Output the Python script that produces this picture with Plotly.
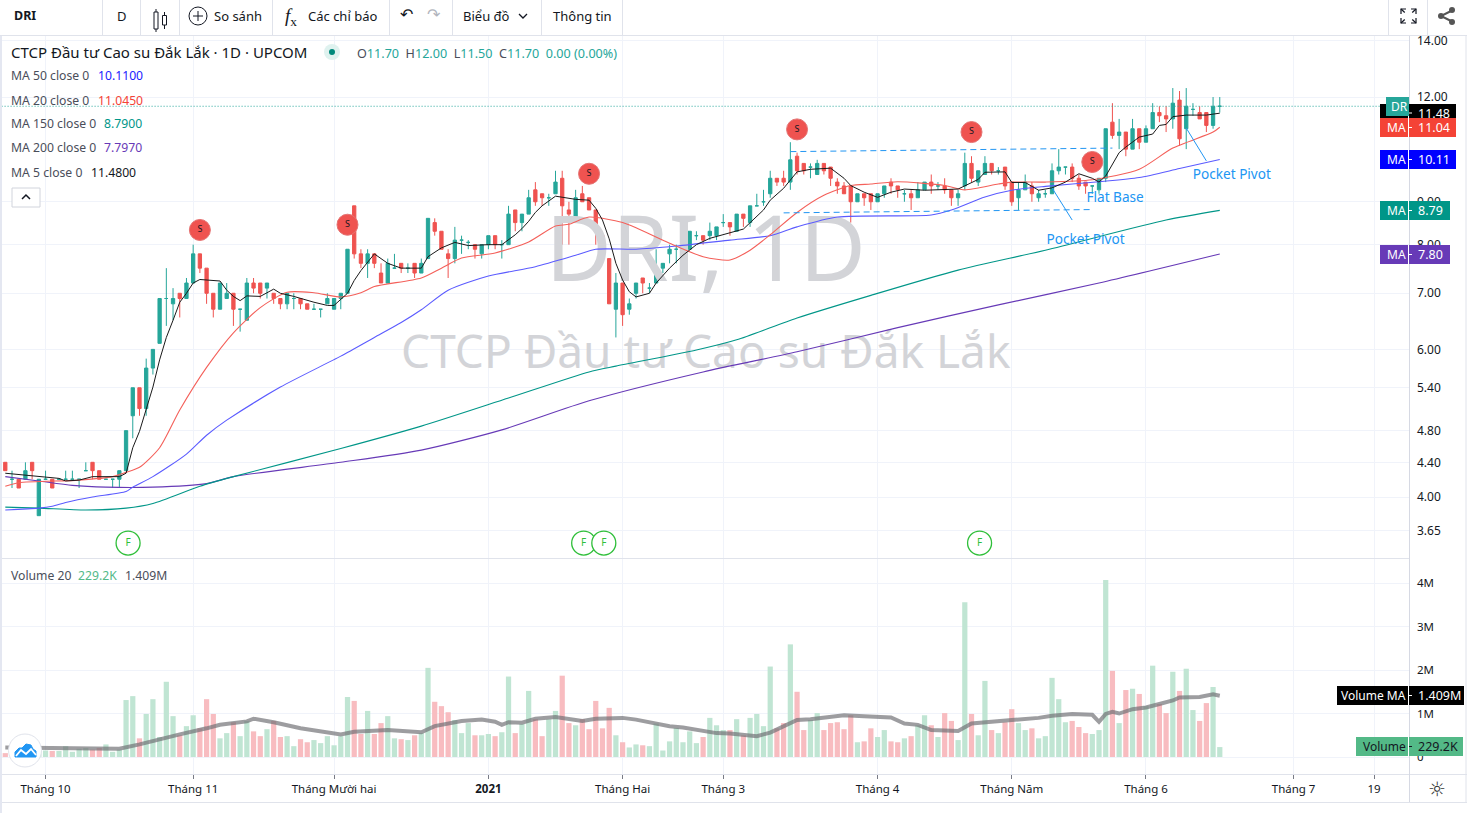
#!/usr/bin/env python3
# -*- coding: utf-8 -*-
# DRI daily candles with moving averages and volume, TradingView style
import plotly.graph_objects as go

W = 1467
H = 813
FONT = "Noto Sans"

opens = [4.40,4.20,4.20,4.20,4.40,3.80,4.20,4.20,4.20,4.20,
         4.20,4.20,4.30,4.40,4.30,4.20,4.20,4.20,4.30,5.00,
         5.40,5.10,5.70,6.10,6.90,6.80,7.00,6.90,7.20,7.80,
         7.50,7.00,6.70,6.90,7.00,6.70,6.50,7.20,7.20,7.10,
         7.00,6.90,6.80,6.90,6.90,6.80,6.70,6.70,6.80,6.70,
         6.90,7.00,8.90,7.80,7.60,7.80,7.40,7.20,7.50,7.60,
         7.50,7.60,7.40,7.70,8.50,8.30,7.80,7.70,8.10,8.05,
         8.00,7.80,8.00,8.20,8.00,8.00,8.80,8.50,8.70,9.30,
         9.20,9.10,9.20,9.60,8.80,8.60,9.20,9.10,8.80,8.20,
         7.70,6.70,7.20,6.70,7.00,7.30,7.10,7.20,7.50,7.80,
         7.90,7.80,7.90,8.20,8.20,8.20,8.20,8.50,8.50,8.30,
         8.70,8.50,8.90,9.00,9.20,9.60,9.60,9.50,10.20,10.00,
         9.90,9.70,10.00,9.90,9.50,9.40,9.40,9.00,9.20,9.20,
         9.00,9.20,9.50,9.40,9.20,9.20,9.10,9.30,9.50,9.40,
         9.40,9.30,9.10,9.40,10.00,9.50,9.70,10.00,9.80,9.90,
         9.50,9.10,9.30,9.40,9.10,9.20,9.20,9.80,9.90,9.90,
         9.60,9.50,9.40,9.30,9.60,11.20,10.80,10.90,10.40,11.00,
         10.60,11.00,11.50,11.40,11.30,11.90,11.00,11.60,11.50,11.50,
         11.10,11.70]
highs = [4.40,4.30,4.20,4.40,4.40,4.20,4.30,4.20,4.20,4.30,
         4.30,4.20,4.40,4.40,4.30,4.20,4.20,4.30,4.80,5.40,
         5.40,5.85,6.00,6.90,7.50,7.10,7.00,7.30,8.00,7.80,
         7.50,7.00,7.20,7.20,7.00,6.70,7.30,7.30,7.20,7.20,
         7.00,6.90,7.00,7.00,6.90,6.80,6.80,6.70,7.00,6.90,
         7.00,7.90,8.90,7.90,7.90,7.80,7.60,7.70,7.80,7.60,
         7.60,7.60,7.70,8.60,8.60,8.30,7.90,8.40,8.20,8.10,
         8.00,8.00,8.20,8.20,8.10,8.90,8.80,8.70,9.30,9.50,
         9.20,9.20,9.80,9.80,9.00,9.30,9.40,9.10,8.80,8.30,
         7.70,7.40,7.20,6.90,7.20,7.30,7.20,7.90,7.60,8.00,
         8.00,7.90,8.30,8.30,8.20,8.50,8.40,8.70,8.50,8.70,
         8.70,8.90,9.20,9.30,9.80,9.60,9.80,10.60,10.30,10.00,
         10.00,10.10,10.00,9.90,9.60,9.50,9.40,9.20,9.20,9.20,
         9.20,9.40,9.60,9.40,9.30,9.30,9.50,9.50,9.70,9.50,
         9.60,9.30,9.30,10.30,10.20,9.80,10.20,10.00,9.90,9.90,
         9.50,9.50,9.70,9.50,9.30,9.30,10.00,10.40,9.90,10.00,
         9.70,9.50,9.40,9.60,11.00,11.80,11.30,10.90,11.30,11.00,
         11.10,11.80,11.70,11.70,12.30,12.20,12.30,11.80,11.70,11.50,
         12.00,12.00]
lows = [4.30,4.10,4.10,4.20,4.20,3.80,4.20,4.10,4.20,4.20,
        4.20,4.10,4.30,4.20,4.20,4.20,4.10,4.10,4.30,4.70,
        5.00,5.00,5.60,6.10,6.40,6.50,6.55,6.90,7.20,7.40,
        6.80,6.55,6.70,6.90,6.40,6.30,6.50,7.00,6.90,6.90,
        6.80,6.70,6.70,6.70,6.70,6.70,6.70,6.55,6.80,6.70,
        6.70,7.00,7.70,7.50,7.30,7.50,7.20,7.20,7.50,7.40,
        7.40,7.30,7.40,7.70,8.20,7.90,7.30,7.60,7.80,7.90,
        7.70,7.70,7.90,7.90,7.70,8.00,8.30,8.30,8.70,8.90,
        8.90,8.90,9.20,8.00,8.00,8.60,9.00,8.80,8.00,7.60,
        6.80,6.20,6.40,6.60,6.90,7.00,7.00,7.20,7.40,7.60,
        7.60,7.70,7.90,8.10,8.00,8.10,8.10,8.40,8.20,8.30,
        8.40,8.40,8.90,8.90,9.10,9.40,9.40,9.30,9.70,9.70,
        9.60,9.70,9.70,9.40,9.20,9.20,8.50,9.00,8.90,8.80,
        9.00,9.10,9.20,9.10,9.00,8.80,9.10,9.30,9.20,9.30,
        9.20,8.90,8.90,9.30,9.50,9.40,9.70,9.70,9.70,9.30,
        8.90,8.80,9.30,9.00,9.00,9.10,9.20,9.70,9.70,9.50,
        9.30,9.20,9.20,9.20,9.50,10.70,10.40,10.20,10.40,10.40,
        10.60,11.00,11.20,10.90,11.00,10.50,10.40,11.40,11.30,10.90,
        11.00,11.50]
closes = [4.30,4.20,4.10,4.30,4.30,4.20,4.20,4.10,4.20,4.20,
          4.20,4.20,4.30,4.30,4.20,4.20,4.20,4.30,4.80,5.40,
          5.10,5.70,6.00,6.90,6.90,6.90,6.90,7.20,7.80,7.50,
          7.00,6.70,7.20,7.00,6.70,6.70,7.20,7.10,7.00,7.20,
          6.90,6.80,7.00,6.90,6.80,6.70,6.70,6.70,6.90,6.90,
          7.00,7.90,7.80,7.60,7.80,7.60,7.20,7.60,7.50,7.50,
          7.50,7.40,7.60,8.60,8.30,7.90,7.70,8.10,8.10,8.05,
          7.90,8.00,8.20,8.00,8.00,8.70,8.50,8.70,9.10,9.00,
          9.10,9.10,9.50,8.90,8.70,9.10,9.00,8.80,8.30,7.70,
          6.80,7.20,6.60,6.80,7.20,7.20,7.10,7.50,7.60,7.90,
          7.90,7.80,8.30,8.20,8.10,8.30,8.40,8.50,8.40,8.70,
          8.60,8.90,8.90,9.00,9.60,9.50,9.50,10.10,9.80,9.80,
          9.90,10.00,9.80,9.60,9.40,9.20,9.00,9.20,9.10,9.00,
          9.20,9.40,9.40,9.30,9.20,9.10,9.30,9.50,9.40,9.40,
          9.30,9.10,9.20,10.00,9.60,9.80,10.00,9.80,9.80,9.40,
          9.00,9.30,9.50,9.20,9.20,9.20,9.80,9.90,9.90,9.60,
          9.40,9.40,9.40,9.60,11.00,10.80,10.90,10.40,11.00,10.60,
          11.00,11.50,11.40,11.30,11.80,10.70,11.70,11.60,11.30,11.10,
          11.70,11.70]
# volume in millions of shares
volumes = [.09,.20,.15,.20,.15,.20,.15,.14,.14,.25,
           .12,.19,.21,.17,.21,.29,.12,.17,1.31,1.40,
           .43,.99,1.33,.46,1.73,.94,.50,.71,.96,.66,
           1.33,.99,.43,.55,.80,.48,.83,.59,.48,.64,
           .83,.46,.48,.25,.41,.34,.39,.32,.48,.27,
           .48,1.38,1.29,.53,1.06,.53,.78,.94,.43,.41,
           .39,.50,.55,2.05,1.27,1.17,1.03,.85,.55,.78,
           .50,.50,.53,.48,.57,1.85,.55,.76,1.52,.87,
           .48,.87,1.06,1.87,.78,.73,.87,.64,1.29,.66,
           1.13,.50,.34,.22,.29,.27,.25,.77,.15,.36,
           .67,.34,.59,.32,.46,.90,.73,.62,.62,.87,
           .50,.90,.99,.71,2.08,.66,.78,2.59,1.50,.62,
           .85,1.01,.62,.78,.80,.64,.96,.34,.36,.66,
           .46,.62,.36,.34,.43,.48,.73,.96,.73,.46,
           1.01,.83,.39,3.56,.99,.50,1.75,.62,.55,.80,
           1.10,.78,.62,.66,.43,.48,1.82,1.33,.80,.83,
           .69,.55,.53,.62,4.07,1.98,.78,1.54,1.57,1.45,
           1.17,2.10,1.22,1.01,1.96,1.52,2.03,1.08,.83,1.24,
           1.61,.229]

# moving averages at the bars where they bend
ma5_bars = [0,3,5,8,9,11,13,17,18,19,20,21,22,23,24,25,26,27,28,29,32,33,34,35,36,38,40,41,43,46,48,49,51,52,53,55,57,59,61,62,63,65,67,69,72,74,76,77,78,79,80,82,85,87,88,89,90,91,92,93,94,96,97,99,101,103,105,108,110,113,114,116,117,118,120,123,125,126,128,130,132,134,137,142,145,146,149,150,152,154,156,158,160,162,163,164,166,167,169,171,172,173,174,176,179,181]
ma5 = [4.27,4.25,4.23,4.21,4.18,4.19,4.23,4.23,4.27,4.58,4.79,5.08,5.41,5.83,6.20,6.50,6.83,7.00,7.20,7.27,7.24,7.06,6.94,6.86,6.95,6.94,7.08,7.00,6.94,6.83,6.77,6.77,7.00,7.25,7.45,7.80,7.60,7.50,7.50,7.50,7.74,7.93,8.05,7.98,8.00,8.00,8.22,8.36,8.53,8.74,8.90,9.14,9.06,9.04,8.84,8.56,8.13,7.60,7.26,7.03,6.93,7.00,7.20,7.50,7.77,8.00,8.14,8.27,8.35,8.80,9.04,9.34,9.56,9.77,9.84,9.87,9.60,9.41,9.24,9.11,9.24,9.32,9.29,9.32,9.57,9.76,9.77,9.49,9.49,9.29,9.35,9.50,9.72,9.60,9.50,9.66,10.30,10.46,10.75,10.84,11.10,11.13,11.37,11.42,11.42,11.48]
ma20_bars = [0,2,11,16,18,20,23,26,30,34,38,42,46,50,53,55,62,65,68,73,78,82,84,87,92,94,99,104,108,111,114,118,122,126,129,133,140,143,148,150,155,162,169,174,180,181]
ma20 = [4.12,4.16,4.19,4.23,4.28,4.34,4.58,5.08,5.71,6.28,6.73,7.02,7.01,6.93,7.01,7.13,7.30,7.50,7.71,7.82,8.06,8.42,8.46,8.63,8.50,8.38,8.03,7.74,7.67,7.88,8.22,8.74,9.16,9.41,9.45,9.51,9.41,9.30,9.45,9.50,9.50,9.56,9.84,10.43,10.90,11.045]
ma50_bars = [0,5,7,9,13,18,19,22,27,30,33,41,50,55,59,62,66,72,79,85,88,94,100,108,114,118,124,138,141,146,150,155,163,169,175,181]
ma50 = [3.86,3.88,3.90,3.94,4.00,4.06,4.11,4.23,4.50,4.74,4.94,5.41,5.89,6.20,6.46,6.69,7.06,7.34,7.53,7.77,7.90,7.90,7.97,8.10,8.20,8.40,8.63,8.68,8.80,9.12,9.29,9.39,9.51,9.62,9.86,10.11]
ma150_bars = [0,5,12,18,22,29,34,50,62,75,87,91,103,109,118,129,142,155,173,181]
ma150 = [3.89,3.88,3.86,3.88,3.93,4.12,4.23,4.57,4.86,5.25,5.64,5.73,5.99,6.16,6.54,6.96,7.46,7.88,8.56,8.79]
ma200_bars = [0,5,10,15,22,30,34,50,62,74,87,104,118,133,148,163,181]
ma200 = [4.23,4.18,4.13,4.11,4.11,4.15,4.23,4.40,4.55,4.81,5.21,5.64,5.96,6.37,6.78,7.20,7.797]
vol_ma_bars = [0,5,17,20,23,26,30,32,36,37,40,44,50,52,57,61,62,64,68,71,73,74,75,77,79,82,85,86,88,90,92,94,97,99,101,103,106,108,111,112,114,116,118,120,122,125,128,132,134,136,138,142,144,147,150,154,156,159,162,163,164,165,166,168,170,172,174,175,178,180,181]
vol_ma = [.22,.21,.19,.29,.41,.52,.66,.74,.82,.88,.80,.66,.52,.58,.62,.57,.57,.71,.83,.86,.81,.74,.80,.79,.88,.92,.85,.83,.88,.90,.90,.86,.77,.71,.68,.62,.55,.54,.50,.48,.56,.70,.85,.87,.91,.96,.94,.91,.77,.74,.62,.60,.77,.80,.85,.90,.95,.99,.97,.81,.99,1.04,1.00,1.10,1.14,1.22,1.30,1.37,1.38,1.44,1.409]

# time axis
tick_bars = [6,28,49,72,92,107,130,150,170,192,204]
tick_labels = ["Tháng 10","Tháng 11","Tháng Mười hai","<b>2021</b>","Tháng Hai","Tháng 3","Tháng 4","Tháng Năm","Tháng 6","Tháng 7","19"]
price_ticks = [3.65,4.00,4.40,4.80,5.40,6.00,7.00,8.00,9.00,12.00,14.00]
vol_ticks = [0,1,2,3,4]
vol_tick_labels = ["0","1M","2M","3M","4M"]

# signals and hand drawn lines on the chart
sell_bars = [29,51,87,118,144,162]
sell_prices = [8.33,8.45,9.72,10.98,10.90,10.04]
f_bars = [18.3,86.2,89.2,145.2]
f_prices = [3.525,3.525,3.525,3.525]
upper_base_bars = [117,165]
upper_base = [10.33,10.43]
lower_base_bars = [116,162]
lower_base = [8.73,8.81]
pivot1_bars = [156,159]
pivot1 = [9.35,8.56]
pivot2_bars = [176,179]
pivot2 = [11.02,10.07]
note_bars = [165.4,161,182.8]
note_prices = [9.07,8.10,9.66]
note_texts = ["Flat Base","Pocket Pivot","Pocket Pivot"]

UP = "#26a69a"
DOWN = "#ef5350"
GRID = "#f0f3fa"
BORDER = "#e0e3eb"
TEXT = "#131722"
LEGEND = "#4a4e5a"
DRAW = "#2196f3"

bars = list(range(len(closes)))
up_idx = [i for i in bars if closes[i] >= opens[i]]
down_idx = [i for i in bars if closes[i] < opens[i]]


def pick(values, idx):
    return [values[i] for i in idx]


fig = go.Figure()

# watermark goes in first so it sits behind the candles
fig.add_trace(go.Scatter(x=[104.4, 104.4], y=[7.71, 5.88], mode="text", text=["DRI, 1D", "CTCP Đầu tư Cao su Đắk Lắk"],
                         textfont=dict(family=FONT, size=[91, 46], color="#d3d4d8"), textposition="middle center",
                         hoverinfo="skip", showlegend=False))

fig.add_trace(go.Scatter(x=[-1, 210], y=[closes[-1], closes[-1]], mode="lines",
                         line=dict(color=UP, width=1, dash="1px,2px"), showlegend=False))

for idx, col in ((up_idx, UP), (down_idx, DOWN)):
    fig.add_trace(go.Candlestick(x=idx, open=pick(opens, idx), high=pick(highs, idx), low=pick(lows, idx),
                                 close=pick(closes, idx), whiskerwidth=0,
                                 increasing=dict(line=dict(color=col, width=1), fillcolor=col),
                                 decreasing=dict(line=dict(color=col, width=1), fillcolor=col),
                                 showlegend=False))

for xs, ys, col in ((ma200_bars, ma200, "#673ab7"), (ma150_bars, ma150, "#009688"), (ma50_bars, ma50, "#5b5bff"),
                    (ma20_bars, ma20, "#f4605a")):
    fig.add_trace(go.Scatter(x=xs, y=ys, mode="lines", line=dict(color=col, width=1.1, shape="spline", smoothing=0.7),
                             showlegend=False))
fig.add_trace(go.Scatter(x=ma5_bars, y=ma5, mode="lines", line=dict(color="#1a1a1a", width=1), showlegend=False))

for xs, ys in ((upper_base_bars, upper_base), (lower_base_bars, lower_base)):
    fig.add_trace(go.Scatter(x=xs, y=ys, mode="lines", line=dict(color=DRAW, width=1, dash="6px,4px"), showlegend=False))
for xs, ys in ((pivot1_bars, pivot1), (pivot2_bars, pivot2)):
    fig.add_trace(go.Scatter(x=xs, y=ys, mode="lines", line=dict(color=DRAW, width=1), showlegend=False))

fig.add_trace(go.Scatter(x=note_bars, y=note_prices, mode="text", text=note_texts,
                         textfont=dict(family=FONT, size=13.6, color=DRAW), showlegend=False))
fig.add_trace(go.Scatter(x=sell_bars, y=sell_prices, mode="markers+text", text=["S"] * len(sell_bars),
                         marker=dict(size=21, color=DOWN, line=dict(color="#e57373", width=1)),
                         textfont=dict(family=FONT, size=9, color=TEXT), textposition="middle center", showlegend=False))
fig.add_trace(go.Scatter(x=f_bars, y=f_prices, mode="markers+text", text=["F"] * len(f_bars),
                         marker=dict(size=24, color="white", line=dict(color="#2fbf3a", width=1.3)),
                         textfont=dict(family=FONT, size=10, color="#2fbf3a"), textposition="middle center", showlegend=False))

# volume pane
for idx, col in ((up_idx, "#c0e5d3"), (down_idx, "#f8bcc0")):
    fig.add_trace(go.Bar(x=idx, y=pick(volumes, idx), width=0.78, marker=dict(color=col, line=dict(width=0)),
                         xaxis="x2", yaxis="y2", showlegend=False))
fig.add_trace(go.Scatter(x=vol_ma_bars, y=vol_ma, mode="lines", line=dict(color="rgba(110,110,115,0.68)", width=4),
                         xaxis="x2", yaxis="y2", showlegend=False))


def X(x):
    return x / W


def Y(y):
    return 1 - y / H


shapes = []
notes = []


def rect(x0, y0, x1, y1, fill, line=None, kind="rect"):
    shapes.append(dict(type=kind, xref="paper", yref="paper", x0=X(x0), y0=Y(y0), x1=X(x1), y1=Y(y1), fillcolor=fill,
                       line=dict(color=line or fill, width=1 if line else 0)))


def seg(x0, y0, x1, y1, col=BORDER, width=1):
    shapes.append(dict(type="line", xref="paper", yref="paper", x0=X(x0), y0=Y(y0), x1=X(x1), y1=Y(y1),
                       line=dict(color=col, width=width)))


def poly(points, col, width=1.3, fill=None):
    path = "M" + " L".join("%.5f,%.5f" % (X(a), Y(b)) for a, b in points)
    if fill:
        path += " Z"
    shapes.append(dict(type="path", xref="paper", yref="paper", path=path, fillcolor=fill or "rgba(0,0,0,0)",
                       line=dict(color=col, width=width)))


def label(text, x, y, size=13, col=TEXT, anchor="left", family=FONT):
    # annotations keep about 2px of padding round the text
    nudge = {"left": -2, "right": 2, "center": 0}[anchor]
    notes.append(dict(text=text, xref="paper", yref="paper", x=X(x + nudge), y=Y(y), xanchor=anchor, yanchor="middle",
                      showarrow=False, font=dict(family=family, size=size, color=col)))


def badge(x1, y0, y1, fill, name, value, x0=1380, col="white", text_y=None):
    mid = (y0 + y1) / 2 if text_y is None else text_y
    rect(x0, y0, x1, y1, fill)
    seg(1408.5, y0, 1408.5, y1, "white")
    seg(1409, mid, 1412, mid, col)
    if name:
        label(name, 1406, mid, 12, col, "right")
    label(value, 1418, mid, 12.5, col)


# page frame
rect(0, 0, 2, H, "#e4e7f1")
seg(1466, 36, 1466, 802)
rect(0, 0, W, 35, "white")
seg(0, 35.5, W, 35.5)
seg(2, 558.5, 1409, 558.5)
seg(2, 774.5, W, 774.5)
seg(2, 802.5, W, 802.5)
seg(1409.5, 36, 1409.5, 802, "#d6d9e3")

# toolbar
for sx in (102, 140, 179, 272, 389, 452, 541, 622, 1388, 1427):
    seg(sx + 0.5, 0, sx + 0.5, 35)
label("<b>DRI</b>", 14, 16, 12.5)
label("D", 122, 16, 13, TEXT, "center")
seg(156, 9, 156, 32, "#131722")
rect(154, 12, 158, 29, "white", "#131722")
seg(164.5, 12, 164.5, 29, "#131722")
rect(162.5, 15.5, 166.5, 25, "white", "#131722")
rect(189, 7, 207, 25, "white", "#131722", "circle")
seg(198, 11, 198, 21, "#131722")
seg(193, 16, 203, 16, "#131722")
label("So sánh", 214, 16, 13)
label("<i>f</i><sub>x</sub>", 285, 17, 19, TEXT, "left", "Liberation Serif")
label("Các chỉ báo", 308, 16, 13)
label("↶", 406, 15, 16, TEXT, "center", "DejaVu Sans")
label("↷", 434, 15, 16, "#b2b5be", "center", "DejaVu Sans")
label("Biểu đồ", 463, 16, 13)
poly([(519, 14), (523, 18), (527, 14)], TEXT)
label("Thông tin", 553, 16, 13)
for (ax, ay), (bx, by), (cx, cy) in (((1401, 9), (1401, 14), (1406, 9)), ((1416, 9), (1416, 14), (1411, 9)),
                                     ((1401, 23), (1401, 18), (1406, 23)), ((1416, 23), (1416, 18), (1411, 23))):
    poly([(bx, by), (ax, ay), (cx, cy)], TEXT, 1.2)
    seg(ax, ay, (ax + 1408.5) / 2, (ay + 16) / 2, TEXT, 1.2)
poly([(1453, 10), (1441, 16), (1453, 22)], "#555", 2)
rect(1449, 7, 1455, 13, "#555", kind="circle")
rect(1438, 13, 1444, 19, "#555", kind="circle")
rect(1449, 19, 1455, 25, "#555", kind="circle")

# legend block
label("CTCP Đầu tư Cao su Đắk Lắk · 1D · UPCOM", 11, 52, 15)
rect(324, 44, 340, 60, "#dff2ef", kind="circle")
rect(329, 49, 335, 55, "#00897b", kind="circle")
val = '<span style="color:%s">%%s</span>' % UP
label("O" + val % "11.70" + "  H" + val % "12.00" + "  L" + val % "11.50" + "  C" + val % "11.70" + "  " + val % "0.00 (0.00%)",
      357, 53, 12.6, LEGEND)
rows = [("MA 50 close 0", "10.1100", "#2121ff", 98), ("MA 20 close 0", "11.0450", "#f44336", 98),
        ("MA 150 close 0", "8.7900", "#009688", 104), ("MA 200 close 0", "7.7970", "#673ab7", 104),
        ("MA 5 close 0", "11.4800", "#131722", 91)]
for k, (name, value, col, vx) in enumerate(rows):
    label(name, 11, 76 + 24 * k, 12.2, LEGEND)
    label(value, vx, 76 + 24 * k, 12.2, col)
rect(12, 188, 40, 207, "white", "#d1d4dc")
poly([(22, 199), (26, 195), (30, 199)], TEXT, 1.5)
label("Volume 20", 11, 575, 12.2, LEGEND)
label("229.2K", 78, 575, 12.2, "#53b987")
label("1.409M", 125, 575, 12.2, LEGEND)

# logo
rect(8.5, 734, 41.5, 767, "white", "#e0e3eb", "circle")
poly([(15, 757), (15, 752), (19, 748), (22, 748), (26, 744), (31, 745), (33, 749), (36, 751), (36, 757)], DRAW, 1, DRAW)
poly([(16, 756), (21, 750), (26, 754), (31, 749), (36, 755)], "white", 1.8)

# last value badges on the right
badge(1456, 104, 118, "#000000", "", "11.48", text_y=113)
rect(1386, 97, 1409, 116, UP)
label("DR", 1408, 106.5, 12, "white", "right")
badge(1456, 118, 137, "#f44336", "MA", "11.04")
badge(1456, 150, 169, "#0000ff", "MA", "10.11")
badge(1450, 201, 220, "#009688", "MA", "8.79")
badge(1450, 245, 264, "#673ab7", "MA", "7.80")
badge(1464, 686, 705, "#000000", "Volume MA", "1.409M", 1337)
badge(1463, 737, 756, "#53b987", "Volume", "229.2K", 1356, "#131722")
label("☼", 1437, 789, 20, "#333", "center", "DejaVu Sans")

fig.update_layout(
    width=W, height=H, margin=dict(l=0, r=0, t=0, b=0, autoexpand=False), paper_bgcolor="white", plot_bgcolor="white",
    barmode="overlay", showlegend=False, font=dict(family=FONT, size=12, color=TEXT), shapes=shapes, annotations=notes,
    hovermode=False,
    xaxis=dict(domain=[X(2), X(1409)], range=[-0.49, 209.2], anchor="y", rangeslider=dict(visible=False),
               tickvals=tick_bars, showticklabels=False, ticks="", showgrid=True, gridcolor=GRID, zeroline=False),
    xaxis2=dict(domain=[X(2), X(1409)], range=[-0.49, 209.2], anchor="y2", matches="x", tickvals=tick_bars,
                ticktext=tick_labels, tickfont=dict(size=11.5, color=TEXT), ticks="outside", ticklen=4, tickcolor="#787b86",
                showgrid=True, gridcolor=GRID, zeroline=False, tickangle=0),
    yaxis=dict(domain=[Y(558), Y(36)], type="log", range=[0.5293, 1.1520], side="right", anchor="x",
               tickvals=price_ticks, ticktext=["%.2f" % p for p in price_ticks], tickfont=dict(size=12, color=TEXT),
               ticklabelstandoff=7, showgrid=True, gridcolor=GRID, zeroline=False),
    yaxis2=dict(domain=[Y(774), Y(558)], range=[-0.39, 4.575], side="right", anchor="x2",
                tickvals=vol_ticks, ticktext=vol_tick_labels, tickfont=dict(size=11.5, color=TEXT),
                ticklabelstandoff=7, showgrid=True, gridcolor=GRID, zeroline=False),
)

fig.write_html("out.html", config=dict(displayModeBar=False), post_script="document.body.style.margin='0';")
